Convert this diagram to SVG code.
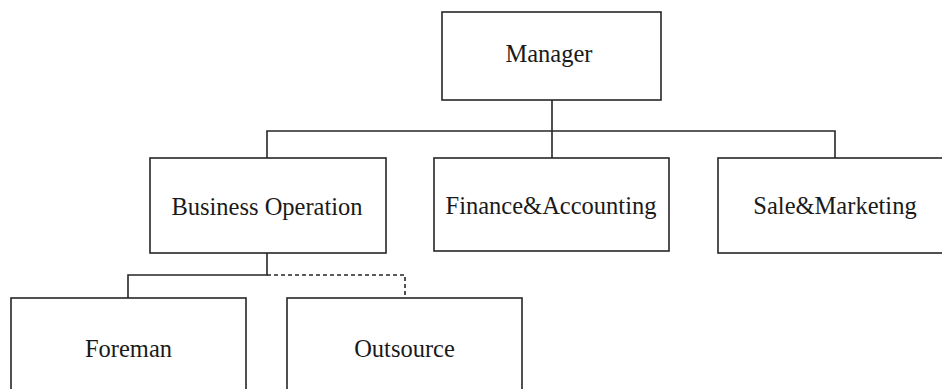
<svg xmlns="http://www.w3.org/2000/svg" width="942" height="389" viewBox="0 0 942 389">
<style>
.box{fill:#fff;stroke:#262626;stroke-width:1.6}
.lbl{font-family:"Liberation Serif","Times New Roman",serif;font-size:24.5px;fill:#1a1a1a;text-anchor:middle}
.ln{fill:none;stroke:#262626;stroke-width:1.6}
.dash{stroke-dasharray:4 3}
</style>
<rect width="942" height="389" fill="#fff"/>
<g id="connectors">
<path class="ln" d="M552 100V131M267 158V131H835V158M552 131V158"/>
<path class="ln" d="M267 253V275H128V298"/>
<path class="ln dash" d="M267 275H405V298"/>
</g>
<g id="manager"><rect class="box" x="442" y="12" width="219" height="88"/><text class="lbl" x="549" y="62">Manager</text></g>
<g id="business"><rect class="box" x="150" y="158" width="236" height="95"/><text class="lbl" x="267" y="215">Business Operation</text></g>
<g id="finance"><rect class="box" x="434" y="158" width="235" height="93"/><text class="lbl" x="551" y="214">Finance&amp;Accounting</text></g>
<g id="sales"><rect class="box" x="718" y="158" width="235" height="95"/><text class="lbl" x="835" y="214">Sale&amp;Marketing</text></g>
<g id="foreman"><rect class="box" x="11" y="298" width="235" height="96"/><text class="lbl" x="128.5" y="357">Foreman</text></g>
<g id="outsource"><rect class="box" x="287" y="298" width="235" height="96"/><text class="lbl" x="404.5" y="357">Outsource</text></g>
</svg>
